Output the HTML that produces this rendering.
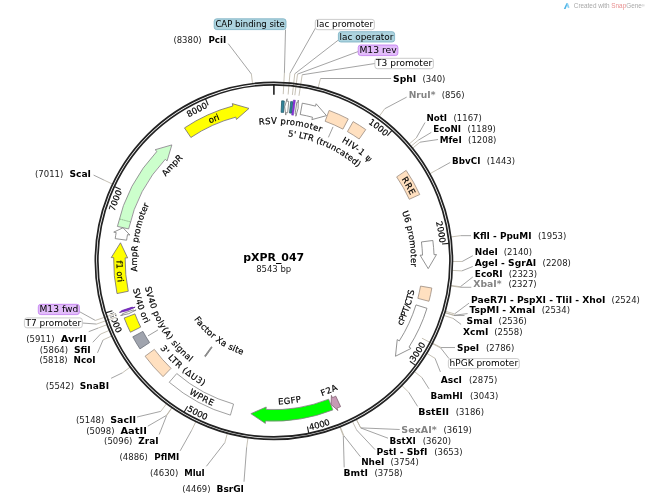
<!DOCTYPE html>
<html><head><meta charset="utf-8"><title>pXPR_047</title>
<style>html,body{margin:0;padding:0;background:#fff;}svg{display:block;}</style>
</head><body>
<svg width="649" height="500" viewBox="0 0 649 500" font-family='"DejaVu Sans", "Liberation Sans", sans-serif'>
<rect width="649" height="500" fill="#fff"/>
<line x1="392.02" y1="130.36" x2="387.29" y2="135.58" stroke="#222" stroke-width="1.1"/>
<path id="tp1" d="M188.76,117.47 A166.8,166.8 0 0 1 433.57,309.16" fill="none"/>
<text font-size="8.5" fill="#000" font-weight="normal" text-anchor="middle" stroke="#000" stroke-width="0.18"><textPath href="#tp1" startOffset="50%">1000</textPath></text>
<line x1="449.07" y1="243.35" x2="442.06" y2="244.05" stroke="#222" stroke-width="1.1"/>
<path id="tp2" d="M307,97.42 A166.8,166.8 0 0 1 359.92,403.81" fill="none"/>
<text font-size="8.5" fill="#000" font-weight="normal" text-anchor="middle" stroke="#000" stroke-width="0.18"><textPath href="#tp2" startOffset="50%">2000</textPath></text>
<line x1="415.57" y1="365.42" x2="409.89" y2="361.23" stroke="#222" stroke-width="1.1"/>
<path id="tp3" d="M240.59,430.76 A173.1,173.1 0 0 0 413.2,158.15" fill="none"/>
<text font-size="8.5" fill="#000" font-weight="normal" text-anchor="middle" stroke="#000" stroke-width="0.18"><textPath href="#tp3" startOffset="50%">3000</textPath></text>
<line x1="308.82" y1="433.45" x2="307.42" y2="426.54" stroke="#222" stroke-width="1.1"/>
<path id="tp4" d="M135.23,364.5 A173.1,173.1 0 0 0 446.14,278.17" fill="none"/>
<text font-size="8.5" fill="#000" font-weight="normal" text-anchor="middle" stroke="#000" stroke-width="0.18"><textPath href="#tp4" startOffset="50%">4000</textPath></text>
<line x1="184.02" y1="412.28" x2="187.62" y2="406.22" stroke="#222" stroke-width="1.1"/>
<path id="tp5" d="M101.56,244.68 A173.1,173.1 0 0 0 390.03,389.27" fill="none"/>
<text font-size="8.5" fill="#000" font-weight="normal" text-anchor="middle" stroke="#000" stroke-width="0.18"><textPath href="#tp5" startOffset="50%">5000</textPath></text>
<line x1="105.69" y1="312.85" x2="112.42" y2="310.77" stroke="#222" stroke-width="1.1"/>
<path id="tp6" d="M156.99,133.25 A173.1,173.1 0 0 0 273.88,434" fill="none"/>
<text font-size="8.5" fill="#000" font-weight="normal" text-anchor="middle" stroke="#000" stroke-width="0.18"><textPath href="#tp6" startOffset="50%">6000</textPath></text>
<line x1="114.32" y1="186.56" x2="120.71" y2="189.54" stroke="#222" stroke-width="1.1"/>
<path id="tp7" d="M161.98,384.57 A166.8,166.8 0 0 1 272.9,94.1" fill="none"/>
<text font-size="8.5" fill="#000" font-weight="normal" text-anchor="middle" stroke="#000" stroke-width="0.18"><textPath href="#tp7" startOffset="50%">7000</textPath></text>
<line x1="205.45" y1="98.7" x2="208.19" y2="105.2" stroke="#222" stroke-width="1.1"/>
<path id="tp8" d="M107.93,277.51 A166.8,166.8 0 0 1 385.07,136.54" fill="none"/>
<text font-size="8.5" fill="#000" font-weight="normal" text-anchor="middle" stroke="#000" stroke-width="0.18"><textPath href="#tp8" startOffset="50%">8000</textPath></text>
<text x="393.1" y="82.3" font-size="9" font-weight="bold" fill="#000" textLength="23.2" lengthAdjust="spacingAndGlyphs">SphI</text>
<text x="422.5" y="82.3" font-size="8.5" fill="#1a1a1a">(340)</text>
<polyline points="320.49,78.51 391.1,78.51" fill="none" stroke="#858585" stroke-width="0.75" stroke-linejoin="round"/>
<line x1="318.08" y1="87.9" x2="320.49" y2="78.51" stroke="#b7b1a2" stroke-width="0.8"/>
<text x="408.7" y="98.4" font-size="9" font-weight="bold" fill="#848484" textLength="26.8" lengthAdjust="spacingAndGlyphs">NruI*</text>
<text x="441.7" y="98.4" font-size="8.5" fill="#1a1a1a">(856)</text>
<polyline points="384.74,108.74 406.7,97.1" fill="none" stroke="#858585" stroke-width="0.75" stroke-linejoin="round"/>
<line x1="379.03" y1="116.58" x2="384.74" y2="108.74" stroke="#b7b1a2" stroke-width="0.8"/>
<text x="426.4" y="121.3" font-size="9" font-weight="bold" fill="#000" textLength="20.7" lengthAdjust="spacingAndGlyphs">NotI</text>
<text x="453.5" y="121.3" font-size="8.5" fill="#1a1a1a">(1167)</text>
<polyline points="416.36,137.84 425,122.5" fill="none" stroke="#858585" stroke-width="0.75" stroke-linejoin="round"/>
<line x1="409.01" y1="144.18" x2="416.36" y2="137.84" stroke="#b7b1a2" stroke-width="0.8"/>
<text x="433.3" y="131.9" font-size="9" font-weight="bold" fill="#000" textLength="27.6" lengthAdjust="spacingAndGlyphs">EcoNI</text>
<text x="467.6" y="131.9" font-size="8.5" fill="#1a1a1a">(1189)</text>
<polyline points="418.33,140.16 431.3,132.4" fill="none" stroke="#858585" stroke-width="0.75" stroke-linejoin="round"/>
<line x1="410.89" y1="146.38" x2="418.33" y2="140.16" stroke="#b7b1a2" stroke-width="0.8"/>
<text x="439.7" y="142.8" font-size="9" font-weight="bold" fill="#000" textLength="22" lengthAdjust="spacingAndGlyphs">MfeI</text>
<text x="468.1" y="142.8" font-size="8.5" fill="#1a1a1a">(1208)</text>
<polyline points="420,142.19 438,139.5" fill="none" stroke="#858585" stroke-width="0.75" stroke-linejoin="round"/>
<line x1="412.47" y1="148.3" x2="420" y2="142.19" stroke="#b7b1a2" stroke-width="0.8"/>
<text x="452.1" y="163.7" font-size="9" font-weight="bold" fill="#000" textLength="28.3" lengthAdjust="spacingAndGlyphs">BbvCI</text>
<text x="486.8" y="163.7" font-size="8.5" fill="#1a1a1a">(1443)</text>
<polyline points="438.24,169.08 450.3,162.4" fill="none" stroke="#858585" stroke-width="0.75" stroke-linejoin="round"/>
<line x1="429.77" y1="173.81" x2="438.24" y2="169.08" stroke="#b7b1a2" stroke-width="0.8"/>
<text x="473" y="239.2" font-size="9" font-weight="bold" fill="#000" textLength="58.5" lengthAdjust="spacingAndGlyphs">KflI - PpuMI</text>
<text x="538" y="239.2" font-size="8.5" fill="#1a1a1a">(1953)</text>
<polyline points="460.45,235.67 471,235.67" fill="none" stroke="#858585" stroke-width="0.75" stroke-linejoin="round"/>
<line x1="450.84" y1="236.97" x2="460.45" y2="235.67" stroke="#b7b1a2" stroke-width="0.8"/>
<text x="474.8" y="255.2" font-size="9" font-weight="bold" fill="#000" textLength="23.1" lengthAdjust="spacingAndGlyphs">NdeI</text>
<text x="503.8" y="255.2" font-size="8.5" fill="#1a1a1a">(2140)</text>
<polyline points="462.15,261.49 472.8,255.7" fill="none" stroke="#858585" stroke-width="0.75" stroke-linejoin="round"/>
<line x1="452.45" y1="261.46" x2="462.15" y2="261.49" stroke="#b7b1a2" stroke-width="0.8"/>
<text x="474.8" y="266" font-size="9" font-weight="bold" fill="#000" textLength="61.3" lengthAdjust="spacingAndGlyphs">AgeI - SgrAI</text>
<text x="542.6" y="266" font-size="8.5" fill="#1a1a1a">(2208)</text>
<polyline points="461.88,270.9 472.8,266.5" fill="none" stroke="#858585" stroke-width="0.75" stroke-linejoin="round"/>
<line x1="452.2" y1="270.38" x2="461.88" y2="270.9" stroke="#b7b1a2" stroke-width="0.8"/>
<text x="474.8" y="276.5" font-size="9" font-weight="bold" fill="#000" textLength="27.8" lengthAdjust="spacingAndGlyphs">EcoRI</text>
<text x="508.7" y="276.5" font-size="8.5" fill="#1a1a1a">(2323)</text>
<polyline points="460.37,286.74 472.8,277" fill="none" stroke="#858585" stroke-width="0.75" stroke-linejoin="round"/>
<line x1="450.76" y1="285.41" x2="460.37" y2="286.74" stroke="#b7b1a2" stroke-width="0.8"/>
<text x="473.3" y="286.9" font-size="9" font-weight="bold" fill="#848484" textLength="28.3" lengthAdjust="spacingAndGlyphs">XbaI*</text>
<text x="508.4" y="286.9" font-size="8.5" fill="#1a1a1a">(2327)</text>
<polyline points="460.29,287.29 471.3,287.29" fill="none" stroke="#858585" stroke-width="0.75" stroke-linejoin="round"/>
<line x1="450.69" y1="285.93" x2="460.29" y2="287.29" stroke="#b7b1a2" stroke-width="0.8"/>
<text x="471.1" y="302.6" font-size="9" font-weight="bold" fill="#000" textLength="134.4" lengthAdjust="spacingAndGlyphs">PaeR7I - PspXI - TliI - XhoI</text>
<text x="611.6" y="302.6" font-size="8.5" fill="#1a1a1a">(2524)</text>
<polyline points="454.53,313.93 469.1,303.1" fill="none" stroke="#858585" stroke-width="0.75" stroke-linejoin="round"/>
<line x1="445.22" y1="311.19" x2="454.53" y2="313.93" stroke="#b7b1a2" stroke-width="0.8"/>
<text x="469.6" y="313.1" font-size="9" font-weight="bold" fill="#000" textLength="65.9" lengthAdjust="spacingAndGlyphs">TspMI - XmaI</text>
<text x="541.7" y="313.1" font-size="8.5" fill="#1a1a1a">(2534)</text>
<polyline points="454.13,315.25 467.6,313.6" fill="none" stroke="#858585" stroke-width="0.75" stroke-linejoin="round"/>
<line x1="444.85" y1="312.45" x2="454.13" y2="315.25" stroke="#b7b1a2" stroke-width="0.8"/>
<text x="466.5" y="323.9" font-size="9" font-weight="bold" fill="#000" textLength="25.9" lengthAdjust="spacingAndGlyphs">SmaI</text>
<text x="498.6" y="323.9" font-size="8.5" fill="#1a1a1a">(2536)</text>
<polyline points="454.05,315.52 464.5,315.52" fill="none" stroke="#858585" stroke-width="0.75" stroke-linejoin="round"/>
<line x1="444.77" y1="312.7" x2="454.05" y2="315.52" stroke="#b7b1a2" stroke-width="0.8"/>
<text x="463.1" y="334.7" font-size="9" font-weight="bold" fill="#000" textLength="25.3" lengthAdjust="spacingAndGlyphs">XcmI</text>
<text x="494.2" y="334.7" font-size="8.5" fill="#1a1a1a">(2558)</text>
<polyline points="453.14,318.43 461.1,324.4" fill="none" stroke="#858585" stroke-width="0.75" stroke-linejoin="round"/>
<line x1="443.91" y1="315.46" x2="453.14" y2="318.43" stroke="#b7b1a2" stroke-width="0.8"/>
<text x="457" y="351.2" font-size="9" font-weight="bold" fill="#000" textLength="22.2" lengthAdjust="spacingAndGlyphs">SpeI</text>
<text x="486" y="351.2" font-size="8.5" fill="#1a1a1a">(2786)</text>
<polyline points="441.03,347.54 455,347.54" fill="none" stroke="#858585" stroke-width="0.75" stroke-linejoin="round"/>
<line x1="432.42" y1="343.07" x2="441.03" y2="347.54" stroke="#b7b1a2" stroke-width="0.8"/>
<text x="440.7" y="383" font-size="9" font-weight="bold" fill="#000" textLength="21.3" lengthAdjust="spacingAndGlyphs">AscI</text>
<text x="469" y="383" font-size="8.5" fill="#1a1a1a">(2875)</text>
<polyline points="435,358.28 440.4,371.9" fill="none" stroke="#858585" stroke-width="0.75" stroke-linejoin="round"/>
<line x1="426.7" y1="353.27" x2="435" y2="358.28" stroke="#b7b1a2" stroke-width="0.8"/>
<text x="430.5" y="399" font-size="9" font-weight="bold" fill="#000" textLength="32.4" lengthAdjust="spacingAndGlyphs">BamHI</text>
<text x="470" y="399" font-size="8.5" fill="#1a1a1a">(3043)</text>
<polyline points="421.77,377.4 429,388.8" fill="none" stroke="#858585" stroke-width="0.75" stroke-linejoin="round"/>
<line x1="414.15" y1="371.39" x2="421.77" y2="377.4" stroke="#b7b1a2" stroke-width="0.8"/>
<text x="418.2" y="415.3" font-size="9" font-weight="bold" fill="#000" textLength="30.8" lengthAdjust="spacingAndGlyphs">BstEII</text>
<text x="455.8" y="415.3" font-size="8.5" fill="#1a1a1a">(3186)</text>
<polyline points="408.73,392.28 417.6,406.4" fill="none" stroke="#858585" stroke-width="0.75" stroke-linejoin="round"/>
<line x1="401.78" y1="385.51" x2="408.73" y2="392.28" stroke="#b7b1a2" stroke-width="0.8"/>
<text x="401.3" y="433.2" font-size="9" font-weight="bold" fill="#848484" textLength="35.4" lengthAdjust="spacingAndGlyphs">SexAI*</text>
<text x="443.5" y="433.2" font-size="8.5" fill="#1a1a1a">(3619)</text>
<polyline points="360.81,427.89 399.7,429.5" fill="none" stroke="#858585" stroke-width="0.75" stroke-linejoin="round"/>
<line x1="356.33" y1="419.28" x2="360.81" y2="427.89" stroke="#b7b1a2" stroke-width="0.8"/>
<text x="389.5" y="443.7" font-size="9" font-weight="bold" fill="#000" textLength="26.2" lengthAdjust="spacingAndGlyphs">BstXI</text>
<text x="422.8" y="443.7" font-size="8.5" fill="#1a1a1a">(3620)</text>
<polyline points="360.69,427.95 388,438.2" fill="none" stroke="#858585" stroke-width="0.75" stroke-linejoin="round"/>
<line x1="356.22" y1="419.34" x2="360.69" y2="427.95" stroke="#b7b1a2" stroke-width="0.8"/>
<text x="376.6" y="454.8" font-size="9" font-weight="bold" fill="#000" textLength="50.8" lengthAdjust="spacingAndGlyphs">PstI - SbfI</text>
<text x="434.2" y="454.8" font-size="8.5" fill="#1a1a1a">(3653)</text>
<polyline points="356.61,430.01 375,449.6" fill="none" stroke="#858585" stroke-width="0.75" stroke-linejoin="round"/>
<line x1="352.35" y1="421.29" x2="356.61" y2="430.01" stroke="#b7b1a2" stroke-width="0.8"/>
<text x="361.2" y="465.3" font-size="9" font-weight="bold" fill="#000" textLength="23.1" lengthAdjust="spacingAndGlyphs">NheI</text>
<text x="390.5" y="465.3" font-size="8.5" fill="#1a1a1a">(3754)</text>
<polyline points="343.83,435.68 360.3,456.6" fill="none" stroke="#858585" stroke-width="0.75" stroke-linejoin="round"/>
<line x1="340.23" y1="426.67" x2="343.83" y2="435.68" stroke="#b7b1a2" stroke-width="0.8"/>
<text x="343.6" y="476.1" font-size="9" font-weight="bold" fill="#000" textLength="24.4" lengthAdjust="spacingAndGlyphs">BmtI</text>
<text x="374.4" y="476.1" font-size="8.5" fill="#1a1a1a">(3758)</text>
<polyline points="343.32,435.88 344.2,467.4" fill="none" stroke="#858585" stroke-width="0.75" stroke-linejoin="round"/>
<line x1="339.74" y1="426.87" x2="343.32" y2="435.88" stroke="#b7b1a2" stroke-width="0.8"/>
<text x="208.4" y="43.1" font-size="9" font-weight="bold" fill="#000" textLength="17.8" lengthAdjust="spacingAndGlyphs">PciI</text>
<text x="173.4" y="43.1" font-size="8.5" fill="#1a1a1a">(8380)</text>
<polyline points="251.39,74 228.2,43.6" fill="none" stroke="#858585" stroke-width="0.75" stroke-linejoin="round"/>
<line x1="252.55" y1="83.63" x2="251.39" y2="74" stroke="#b7b1a2" stroke-width="0.8"/>
<text x="69.4" y="176.5" font-size="9" font-weight="bold" fill="#000" textLength="21.6" lengthAdjust="spacingAndGlyphs">ScaI</text>
<text x="35" y="176.5" font-size="8.5" fill="#1a1a1a">(7011)</text>
<polyline points="103.91,180.03 93.6,175.1" fill="none" stroke="#858585" stroke-width="0.75" stroke-linejoin="round"/>
<line x1="112.67" y1="184.2" x2="103.91" y2="180.03" stroke="#b7b1a2" stroke-width="0.8"/>
<text x="60.7" y="342" font-size="9" font-weight="bold" fill="#000" textLength="26" lengthAdjust="spacingAndGlyphs">AvrII</text>
<text x="26.2" y="342" font-size="8.5" fill="#1a1a1a">(5911)</text>
<polyline points="98.05,328.09 88.7,331.7" fill="none" stroke="#858585" stroke-width="0.75" stroke-linejoin="round"/>
<line x1="107.11" y1="324.63" x2="98.05" y2="328.09" stroke="#b7b1a2" stroke-width="0.8"/>
<text x="73.9" y="352.6" font-size="9" font-weight="bold" fill="#000" textLength="16.9" lengthAdjust="spacingAndGlyphs">SfiI</text>
<text x="39.8" y="352.6" font-size="8.5" fill="#1a1a1a">(5864)</text>
<polyline points="100.48,334.13 92.8,342.3" fill="none" stroke="#858585" stroke-width="0.75" stroke-linejoin="round"/>
<line x1="109.41" y1="330.36" x2="100.48" y2="334.13" stroke="#b7b1a2" stroke-width="0.8"/>
<text x="73.5" y="363.1" font-size="9" font-weight="bold" fill="#000" textLength="22" lengthAdjust="spacingAndGlyphs">NcoI</text>
<text x="39.4" y="363.1" font-size="8.5" fill="#1a1a1a">(5818)</text>
<polyline points="103.05,339.95 97.5,352.8" fill="none" stroke="#858585" stroke-width="0.75" stroke-linejoin="round"/>
<line x1="111.86" y1="335.88" x2="103.05" y2="339.95" stroke="#b7b1a2" stroke-width="0.8"/>
<text x="79.8" y="388.6" font-size="9" font-weight="bold" fill="#000" textLength="29.3" lengthAdjust="spacingAndGlyphs">SnaBI</text>
<text x="45.7" y="388.6" font-size="8.5" fill="#1a1a1a">(5542)</text>
<polyline points="122.5,372.77 111.1,378.3" fill="none" stroke="#858585" stroke-width="0.75" stroke-linejoin="round"/>
<line x1="130.3" y1="367.01" x2="122.5" y2="372.77" stroke="#b7b1a2" stroke-width="0.8"/>
<text x="110.2" y="423.4" font-size="9" font-weight="bold" fill="#000" textLength="25.9" lengthAdjust="spacingAndGlyphs">SacII</text>
<text x="76" y="423.4" font-size="8.5" fill="#1a1a1a">(5148)</text>
<polyline points="160.78,411.37 137,417" fill="none" stroke="#858585" stroke-width="0.75" stroke-linejoin="round"/>
<line x1="166.61" y1="403.62" x2="160.78" y2="411.37" stroke="#b7b1a2" stroke-width="0.8"/>
<text x="120.4" y="433.9" font-size="9" font-weight="bold" fill="#000" textLength="26.5" lengthAdjust="spacingAndGlyphs">AatII</text>
<text x="86.2" y="433.9" font-size="8.5" fill="#1a1a1a">(5098)</text>
<polyline points="166.39,415.43 147.8,426.2" fill="none" stroke="#858585" stroke-width="0.75" stroke-linejoin="round"/>
<line x1="171.93" y1="407.47" x2="166.39" y2="415.43" stroke="#b7b1a2" stroke-width="0.8"/>
<text x="138.3" y="444.4" font-size="9" font-weight="bold" fill="#000" textLength="20.3" lengthAdjust="spacingAndGlyphs">ZraI</text>
<text x="104.1" y="444.4" font-size="8.5" fill="#1a1a1a">(5096)</text>
<polyline points="166.61,415.59 159.2,434.5" fill="none" stroke="#858585" stroke-width="0.75" stroke-linejoin="round"/>
<line x1="172.14" y1="407.62" x2="166.61" y2="415.59" stroke="#b7b1a2" stroke-width="0.8"/>
<text x="154.3" y="460.4" font-size="9" font-weight="bold" fill="#000" textLength="25" lengthAdjust="spacingAndGlyphs">PflMI</text>
<text x="119.5" y="460.4" font-size="8.5" fill="#1a1a1a">(4886)</text>
<polyline points="191.69,430.25 180.2,450.8" fill="none" stroke="#858585" stroke-width="0.75" stroke-linejoin="round"/>
<line x1="195.92" y1="421.52" x2="191.69" y2="430.25" stroke="#b7b1a2" stroke-width="0.8"/>
<text x="184.2" y="476.4" font-size="9" font-weight="bold" fill="#000" textLength="20.6" lengthAdjust="spacingAndGlyphs">MluI</text>
<text x="150" y="476.4" font-size="8.5" fill="#1a1a1a">(4630)</text>
<polyline points="224.84,442.64 206.4,466.3" fill="none" stroke="#858585" stroke-width="0.75" stroke-linejoin="round"/>
<line x1="227.37" y1="433.28" x2="224.84" y2="442.64" stroke="#b7b1a2" stroke-width="0.8"/>
<text x="216.5" y="492.4" font-size="9" font-weight="bold" fill="#000" textLength="27.5" lengthAdjust="spacingAndGlyphs">BsrGI</text>
<text x="182.3" y="492.4" font-size="8.5" fill="#1a1a1a">(4469)</text>
<polyline points="246.65,447.17 244,481.7" fill="none" stroke="#858585" stroke-width="0.75" stroke-linejoin="round"/>
<line x1="248.06" y1="437.57" x2="246.65" y2="447.17" stroke="#b7b1a2" stroke-width="0.8"/>
<line x1="283.23" y1="94.16" x2="283.74" y2="85.12" stroke="#fff" stroke-width="2.6"/>
<polyline points="284.42,72.94 285.5,29.6" fill="none" stroke="#858585" stroke-width="0.75" stroke-linejoin="round"/>
<line x1="283.23" y1="94.16" x2="284.42" y2="72.94" stroke="#b7b1a2" stroke-width="0.8"/>
<rect x="214.2" y="18.8" width="71.8" height="10.8" rx="2.5" ry="2.5" fill="#add3de" stroke="#76aec1" stroke-width="0.8"/>
<text x="215.4" y="27.3" font-size="8.5" textLength="69.4" lengthAdjust="spacingAndGlyphs">CAP binding site</text>
<line x1="288.13" y1="94.51" x2="288.9" y2="85.49" stroke="#fff" stroke-width="2.6"/>
<polyline points="289.94,73.33 315.7,27.7" fill="none" stroke="#858585" stroke-width="0.75" stroke-linejoin="round"/>
<line x1="288.13" y1="94.51" x2="289.94" y2="73.33" stroke="#b7b1a2" stroke-width="0.8"/>
<rect x="315.3" y="19.4" width="59.1" height="10.3" rx="2.5" ry="2.5" fill="#ffffff" stroke="#bebebe" stroke-width="0.8"/>
<text x="316.5" y="27.4" font-size="8.5" textLength="56.7" lengthAdjust="spacingAndGlyphs">lac promoter</text>
<line x1="292.41" y1="94.93" x2="293.41" y2="85.93" stroke="#fff" stroke-width="2.6"/>
<polyline points="294.76,73.81 338.4,40" fill="none" stroke="#858585" stroke-width="0.75" stroke-linejoin="round"/>
<line x1="292.41" y1="94.93" x2="294.76" y2="73.81" stroke="#b7b1a2" stroke-width="0.8"/>
<rect x="338.4" y="31.7" width="56.2" height="10.3" rx="2.5" ry="2.5" fill="#add3de" stroke="#76aec1" stroke-width="0.8"/>
<text x="339.6" y="39.7" font-size="8.5" textLength="53.8" lengthAdjust="spacingAndGlyphs">lac operator</text>
<line x1="294.85" y1="95.22" x2="295.98" y2="86.24" stroke="#fff" stroke-width="2.6"/>
<polyline points="297.51,74.14 358.3,51.5" fill="none" stroke="#858585" stroke-width="0.75" stroke-linejoin="round"/>
<line x1="294.85" y1="95.22" x2="297.51" y2="74.14" stroke="#b7b1a2" stroke-width="0.8"/>
<rect x="358.2" y="45" width="39.7" height="10.6" rx="2.5" ry="2.5" fill="#e2bcfa" stroke="#c27af0" stroke-width="0.8"/>
<text x="359.4" y="53.3" font-size="8.5" textLength="37.3" lengthAdjust="spacingAndGlyphs">M13 rev</text>
<line x1="298.98" y1="95.79" x2="300.34" y2="86.85" stroke="#fff" stroke-width="2.6"/>
<polyline points="302.18,74.79 375,63.5" fill="none" stroke="#858585" stroke-width="0.75" stroke-linejoin="round"/>
<line x1="298.98" y1="95.79" x2="302.18" y2="74.79" stroke="#b7b1a2" stroke-width="0.8"/>
<rect x="374.9" y="58.3" width="58.5" height="10.4" rx="2.5" ry="2.5" fill="#ffffff" stroke="#bebebe" stroke-width="0.8"/>
<text x="376.1" y="66.4" font-size="8.5" textLength="56.1" lengthAdjust="spacingAndGlyphs">T3 promoter</text>
<line x1="421.94" y1="338.19" x2="429.96" y2="342.38" stroke="#fff" stroke-width="2.6"/>
<polyline points="440.77,348.03 449,358.6" fill="none" stroke="#858585" stroke-width="0.75" stroke-linejoin="round"/>
<line x1="421.94" y1="338.19" x2="440.77" y2="348.03" stroke="#b7b1a2" stroke-width="0.8"/>
<rect x="448.4" y="358.6" width="70.9" height="10" rx="2.5" ry="2.5" fill="#ffffff" stroke="#bebebe" stroke-width="0.8"/>
<text x="449.6" y="366.3" font-size="8.5" textLength="68.5" lengthAdjust="spacingAndGlyphs">hPGK promoter</text>
<line x1="115.46" y1="313.68" x2="106.88" y2="316.54" stroke="#fff" stroke-width="2.6"/>
<polyline points="95.3,320.4 79.4,311.6" fill="none" stroke="#858585" stroke-width="0.75" stroke-linejoin="round"/>
<line x1="115.46" y1="313.68" x2="95.3" y2="320.4" stroke="#b7b1a2" stroke-width="0.8"/>
<rect x="38.3" y="304.3" width="41.1" height="10.3" rx="2.5" ry="2.5" fill="#e2bcfa" stroke="#c27af0" stroke-width="0.8"/>
<text x="39.5" y="312.3" font-size="8.5" textLength="38.7" lengthAdjust="spacingAndGlyphs">M13 fwd</text>
<line x1="116.58" y1="316.94" x2="108.06" y2="319.97" stroke="#fff" stroke-width="2.6"/>
<polyline points="96.56,324.07 82.3,323" fill="none" stroke="#858585" stroke-width="0.75" stroke-linejoin="round"/>
<line x1="116.58" y1="316.94" x2="96.56" y2="324.07" stroke="#b7b1a2" stroke-width="0.8"/>
<rect x="24.4" y="317.9" width="57.9" height="9.9" rx="2.5" ry="2.5" fill="#ffffff" stroke="#bebebe" stroke-width="0.8"/>
<text x="25.6" y="325.5" font-size="8.5" textLength="55.5" lengthAdjust="spacingAndGlyphs">T7 promoter</text>
<circle cx="273.9" cy="260.9" r="178.55" fill="none" stroke="#222" stroke-width="1.7"/>
<circle cx="273.9" cy="260.9" r="176.05" fill="none" stroke="#222" stroke-width="1.7"/>
<line x1="273.9" y1="84.85" x2="273.9" y2="94.85" stroke="#111" stroke-width="1.5"/>
<path d="M184.47,127.93 A160.25,160.25 0 0 1 232.87,105.99 L232.25,103.62 L249.01,108.42 L236.45,119.48 L235.82,117.11 A148.75,148.75 0 0 0 190.89,137.47 Z" fill="#ffff00" stroke="#6e6a78" stroke-width="0.8" stroke-linejoin="miter" />
<path d="M117.4,226.43 A160.25,160.25 0 0 1 156.89,151.41 L155.1,149.74 L171.85,144.9 L167.07,160.94 L165.29,159.27 A148.75,148.75 0 0 0 128.63,228.91 Z" fill="#ccffcc" stroke="#857c88" stroke-width="0.8" stroke-linejoin="miter" />
<path d="M115.21,238.61 A160.25,160.25 0 0 1 116.18,232.56 L113.76,232.12 L122.99,227.78 L129.91,235.02 L127.5,234.59 A148.75,148.75 0 0 0 126.6,240.21 Z" fill="#fff" stroke="#777" stroke-width="0.8" stroke-linejoin="miter" />
<path d="M117.02,293.58 A160.25,160.25 0 0 1 113.68,257.63 L111.23,257.58 L120.47,242.79 L127.63,257.91 L125.18,257.86 A148.75,148.75 0 0 0 128.28,291.24 Z" fill="#ffff00" stroke="#6e6a78" stroke-width="0.8" stroke-linejoin="miter" />
<path d="M130.4,332.23 A160.25,160.25 0 0 1 124.16,317.99 L134.91,313.89 A148.75,148.75 0 0 0 140.7,327.11 Z" fill="#ffff00" stroke="#6e6a78" stroke-width="0.8" stroke-linejoin="miter" />
<path d="M139.96,348.88 A160.25,160.25 0 0 1 132.79,336.84 L142.91,331.39 A148.75,148.75 0 0 0 149.58,342.57 Z" fill="#a0a4ae" stroke="#6a6e78" stroke-width="0.8" stroke-linejoin="miter" />
<path d="M163.06,376.64 A160.25,160.25 0 0 1 145.09,356.23 L154.33,349.39 A148.75,148.75 0 0 0 171.01,368.33 Z" fill="#ffe0c0" stroke="#9a8c80" stroke-width="0.8" stroke-linejoin="miter" />
<path d="M230.43,415.14 A160.25,160.25 0 0 1 169.25,382.26 L176.76,373.55 A148.75,148.75 0 0 0 233.55,404.07 Z" fill="#fff" stroke="#888" stroke-width="0.8" stroke-linejoin="miter" />
<path d="M332.88,409.9 A160.25,160.25 0 0 1 265.48,420.93 L265.35,423.38 L250.86,413.67 L266.21,407 L266.08,409.44 A148.75,148.75 0 0 0 328.65,399.21 Z" fill="#00ff00" stroke="#8a7a8a" stroke-width="0.8" stroke-linejoin="miter" />
<path d="M340.58,406.62 A160.25,160.25 0 0 1 336.92,408.24 L337.88,410.49 L331.08,404.43 L331.43,395.41 L332.39,397.67 A148.75,148.75 0 0 0 335.79,396.16 Z" fill="#c79ab5" stroke="#806070" stroke-width="0.8" stroke-linejoin="miter" />
<path d="M426.98,308.3 A160.25,160.25 0 0 1 408.99,347.1 L411.06,348.42 L395.47,356.24 L397.23,339.6 L399.3,340.92 A148.75,148.75 0 0 0 415.99,304.9 Z" fill="#fff" stroke="#777" stroke-width="0.8" stroke-linejoin="miter" />
<path d="M431.84,288.02 A160.25,160.25 0 0 1 428.98,301.27 L417.85,298.37 A148.75,148.75 0 0 0 420.5,286.08 Z" fill="#ffe0c0" stroke="#9a8c80" stroke-width="0.8" stroke-linejoin="miter" />
<path d="M432.84,240.48 A160.25,160.25 0 0 1 434.03,254.68 L436.48,254.59 L428.21,268.65 L420.09,255.23 L422.54,255.13 A148.75,148.75 0 0 0 421.44,241.94 Z" fill="#fff" stroke="#777" stroke-width="0.8" stroke-linejoin="miter" />
<path d="M406.16,170.42 A160.25,160.25 0 0 1 419.75,194.51 L409.29,199.28 A148.75,148.75 0 0 0 396.67,176.91 Z" fill="#ffe0c0" stroke="#9a8c80" stroke-width="0.8" stroke-linejoin="miter" />
<path d="M353.11,121.6 A160.25,160.25 0 0 1 365.76,129.59 L359.17,139.02 A148.75,148.75 0 0 0 347.43,131.59 Z" fill="#ffe0c0" stroke="#9a8c80" stroke-width="0.8" stroke-linejoin="miter" />
<path d="M329.08,110.45 A160.25,160.25 0 0 1 348.25,118.94 L342.92,129.13 A148.75,148.75 0 0 0 325.12,121.25 Z" fill="#ffe0c0" stroke="#9a8c80" stroke-width="0.8" stroke-linejoin="miter" />
<path d="M302.27,103.18 A160.25,160.25 0 0 1 315.49,106.14 L316.13,103.78 L326.46,115.62 L311.87,119.61 L312.51,117.25 A148.75,148.75 0 0 0 300.24,114.5 Z" fill="#fff" stroke="#777" stroke-width="0.8" stroke-linejoin="miter" />
<path d="M296.8,102.3 A160.25,160.25 0 0 1 297.91,102.46 L298.28,100.04 L298.12,108.31 L295.82,116.25 L296.19,113.83 A148.75,148.75 0 0 0 295.16,113.68 Z" fill="#fff" stroke="#777" stroke-width="0.8" stroke-linejoin="miter" />
<path d="M293.4,99.98 A162.1,162.1 0 0 1 295.42,100.23 L293.4,115.3 A146.9,146.9 0 0 0 291.58,115.07 Z" fill="#8a2be2" stroke="#6a3aaa" stroke-width="0.5" stroke-linejoin="miter" />
<path d="M290.72,101.54 A160.25,160.25 0 0 1 292.71,101.76 L291.36,113.18 A148.75,148.75 0 0 0 289.52,112.97 Z" fill="#31849b" stroke="#1f5a6b" stroke-width="0.8" stroke-linejoin="miter" />
<path d="M288.73,101.34 A160.25,160.25 0 0 0 286.91,101.18 L287.11,98.74 L284.69,106.78 L285.78,115.08 L285.98,112.64 A148.75,148.75 0 0 1 287.66,112.79 Z" fill="#fff" stroke="#777" stroke-width="0.8" stroke-linejoin="miter" />
<path d="M281.68,100.84 A160.25,160.25 0 0 1 284.26,100.99 L283.52,112.46 A148.75,148.75 0 0 0 281.12,112.33 Z" fill="#31849b" stroke="#1f5a6b" stroke-width="0.8" stroke-linejoin="miter" />
<path d="M121.57,310.66 A160.25,160.25 0 0 0 121.87,311.55 L119.54,312.33 L127.61,310.59 L135.1,307.14 L132.78,307.92 A148.75,148.75 0 0 1 132.5,307.08 Z" fill="#8a2be2" stroke="#5a1a9a" stroke-width="0.8" stroke-linejoin="miter" />
<path d="M122.59,313.67 A160.25,160.25 0 0 0 122.94,314.67 L120.63,315.49 L128.7,313.7 L136.08,309.99 L133.77,310.81 A148.75,148.75 0 0 1 133.45,309.88 Z" fill="#fff" stroke="#777" stroke-width="0.8" stroke-linejoin="miter" />
<path d="M205.45,356.71 A117.75,117.75 0 0 1 204.6,356.1 L211.37,346.8 A106.25,106.25 0 0 0 212.13,347.35 Z" fill="#999" stroke="#777" stroke-width="0.8" stroke-linejoin="miter" />
<line x1="130.36" y1="221.89" x2="119.26" y2="218.88" stroke="#5f7f5f" stroke-width="0.8" stroke-dasharray="1,1"/>
<path id="tp9" d="M122.46,265.23 A151.5,151.5 0 0 1 382.65,155.42" fill="none"/>
<text font-size="8.5" fill="#000" font-weight="normal" text-anchor="middle" stroke="#000" stroke-width="0.18"><textPath href="#tp9" startOffset="50%">ori</textPath></text>
<path id="tp10" d="M150.32,320.04 A137,137 0 0 1 325.08,133.82" fill="none"/>
<text font-size="8.5" fill="#000" font-weight="normal" text-anchor="middle" stroke="#000" stroke-width="0.18"><textPath href="#tp10" startOffset="50%">AmpR</textPath></text>
<path id="tp11" d="M202.97,378.11 A137,137 0 0 1 247.03,126.56" fill="none"/>
<text font-size="8.5" fill="#000" font-weight="normal" text-anchor="middle" stroke="#000" stroke-width="0.18"><textPath href="#tp11" startOffset="50%" textLength="69" lengthAdjust="spacing">AmpR promoter</textPath></text>
<path id="tp12" d="M207.11,118.26 A157.5,157.5 0 0 0 226.8,411.19" fill="none"/>
<text font-size="8.5" fill="#000" font-weight="normal" text-anchor="middle" stroke="#000" stroke-width="0.18"><textPath href="#tp12" startOffset="50%">f1 ori</textPath></text>
<path id="tp13" d="M181.9,150.64 A143.6,143.6 0 0 0 267.26,404.35" fill="none"/>
<text font-size="8.5" fill="#000" font-weight="normal" text-anchor="middle" stroke="#000" stroke-width="0.18"><textPath href="#tp13" startOffset="50%" textLength="37" lengthAdjust="spacing">SV40 ori</textPath></text>
<path id="tp14" d="M170.07,180.2 A131.5,131.5 0 0 0 295.95,390.54" fill="none"/>
<text font-size="8.5" fill="#000" font-weight="normal" text-anchor="middle" stroke="#000" stroke-width="0.18"><textPath href="#tp14" startOffset="50%" textLength="89" lengthAdjust="spacing">SV40 poly(A) signal</textPath></text>
<path id="tp15" d="M138.7,212.51 A143.6,143.6 0 0 0 340.91,387.91" fill="none"/>
<text font-size="8.5" fill="#000" font-weight="normal" text-anchor="middle" stroke="#000" stroke-width="0.18"><textPath href="#tp15" startOffset="50%" textLength="58" lengthAdjust="spacing">3' LTR (ΔU3)</textPath></text>
<path id="tp16" d="M117.45,242.71 A157.5,157.5 0 0 0 376.98,379.98" fill="none"/>
<text font-size="8.5" fill="#000" font-weight="normal" text-anchor="middle" stroke="#000" stroke-width="0.18"><textPath href="#tp16" startOffset="50%" textLength="27" lengthAdjust="spacing">WPRE</textPath></text>
<path id="tp17" d="M146.68,327.49 A143.6,143.6 0 0 0 412.7,297.73" fill="none"/>
<text font-size="8.5" fill="#000" font-weight="normal" text-anchor="middle" stroke="#000" stroke-width="0.18"><textPath href="#tp17" startOffset="50%" textLength="23.5" lengthAdjust="spacing">EGFP</textPath></text>
<path id="tp18" d="M171.16,361.22 A143.6,143.6 0 0 0 417.43,256.32" fill="none"/>
<text font-size="8.5" fill="#000" font-weight="normal" text-anchor="middle" stroke="#000" stroke-width="0.18"><textPath href="#tp18" startOffset="50%" textLength="17.5" lengthAdjust="spacing">F2A</textPath></text>
<path id="tp19" d="M278.54,404.43 A143.6,143.6 0 0 0 367.43,151.93" fill="none"/>
<text font-size="8.5" fill="#000" font-weight="normal" text-anchor="middle" stroke="#000" stroke-width="0.18"><textPath href="#tp19" startOffset="50%" textLength="38" lengthAdjust="spacing">cPPT/CTS</textPath></text>
<path id="tp20" d="M302.45,126.91 A137,137 0 0 1 343.36,378.99" fill="none"/>
<text font-size="8.5" fill="#000" font-weight="normal" text-anchor="middle" stroke="#000" stroke-width="0.18"><textPath href="#tp20" startOffset="50%" textLength="56" lengthAdjust="spacing">U6 promoter</textPath></text>
<path id="tp21" d="M252.95,110.86 A151.5,151.5 0 0 1 390.7,357.39" fill="none"/>
<text font-size="8.5" fill="#000" font-weight="normal" text-anchor="middle" stroke="#000" stroke-width="0.18"><textPath href="#tp21" startOffset="50%" textLength="18.7" lengthAdjust="spacing">RRE</textPath></text>
<path id="tp22" d="M201.28,144.73 A137,137 0 0 1 405.92,297.51" fill="none"/>
<text font-size="8.5" fill="#000" font-weight="normal" text-anchor="middle" stroke="#000" stroke-width="0.18"><textPath href="#tp22" startOffset="50%" textLength="34.5" lengthAdjust="spacing">HIV-1 ψ</textPath></text>
<path id="tp23" d="M185.7,171.62 A125.5,125.5 0 0 1 399.24,267.16" fill="none"/>
<text font-size="8.5" fill="#000" font-weight="normal" text-anchor="middle" stroke="#000" stroke-width="0.18"><textPath href="#tp23" startOffset="50%" textLength="78" lengthAdjust="spacing">5' LTR (truncated)</textPath></text>
<path id="tp24" d="M153.16,196.16 A137,137 0 0 1 406.66,227.08" fill="none"/>
<text font-size="8.5" fill="#000" font-weight="normal" text-anchor="middle" stroke="#000" stroke-width="0.18"><textPath href="#tp24" startOffset="50%" textLength="63" lengthAdjust="spacing">RSV promoter</textPath></text>
<path id="tp25" d="M178.24,235.39 A99,99 0 0 0 327.21,344.32" fill="none"/>
<text font-size="8.5" fill="#000" font-weight="normal" text-anchor="middle" stroke="#000" stroke-width="0.18"><textPath href="#tp25" startOffset="50%" textLength="61" lengthAdjust="spacing">Factor Xa site</textPath></text>
<line x1="333.04" y1="126.87" x2="328.4" y2="137.39" stroke="#858585" stroke-width="0.8"/>
<line x1="148.03" y1="335.85" x2="157.91" y2="329.97" stroke="#858585" stroke-width="0.8"/>
<text x="243.2" y="261" font-size="11" font-weight="bold" textLength="61" lengthAdjust="spacingAndGlyphs">pXPR_047</text>
<text x="273.7" y="271.6" font-size="8.5" fill="#222" text-anchor="middle">8543 bp</text>
<text x="573.8" y="8.4" font-size="6.3" fill="#a8a8a8" font-family='"Liberation Sans", sans-serif' textLength="71" lengthAdjust="spacingAndGlyphs">Created with <tspan fill="#e89090">Snap</tspan>Gene<tspan font-size="4" dy="-1.8">®</tspan></text>
<path d="M563.8 9 L566.4 3.3 L567.9 3.3 L565.6 9 Z" fill="#4fb4e6"/><path d="M566.6 3.3 L568 3.3 L569.6 7.6 L568 8.2 L566.9 5.4 Z" fill="#8fd3f4"/>
</svg>
</body></html>
